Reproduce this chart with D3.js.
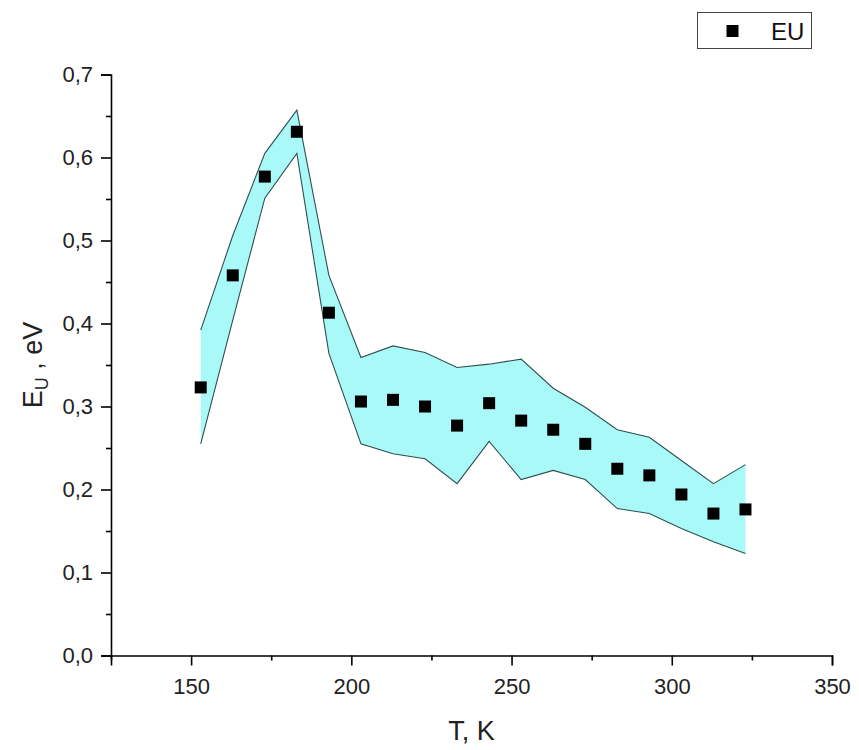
<!DOCTYPE html>
<html>
<head>
<meta charset="utf-8">
<script src="https://cdn.jsdelivr.net/npm/d3@7"></script>
<style>
  html, body { margin: 0; padding: 0; background: #fff; }
  svg { display: block; font-family: "Liberation Sans", Arial, sans-serif; }
</style>
</head>
<body>
<div id="chart"></div>
<script>
// ---- data ----
const temperatures = [153, 163, 173, 183, 193, 203, 213, 223, 233, 243, 253, 263, 273, 283, 293, 303, 313, 323];
const euValues     = [0.323, 0.458, 0.577, 0.631, 0.413, 0.306, 0.308, 0.300, 0.277, 0.304, 0.283, 0.272, 0.255, 0.225, 0.217, 0.194, 0.171, 0.176];
const upperBound   = [0.392, 0.506, 0.605, 0.657, 0.458, 0.359, 0.373, 0.365, 0.347, 0.351, 0.357, 0.322, 0.299, 0.272, 0.263, 0.235, 0.207, 0.230];
const lowerBound   = [0.255, 0.404, 0.551, 0.605, 0.364, 0.255, 0.243, 0.237, 0.207, 0.258, 0.212, 0.223, 0.212, 0.177, 0.171, 0.153, 0.137, 0.123];
const xTicks = [150, 200, 250, 300, 350];
const xMinorTicks = [125, 175, 225, 275, 325];
const yTicks = [0, 0.1, 0.2, 0.3, 0.4, 0.5, 0.6, 0.7];
const yMinorTicks = [0.05, 0.15, 0.25, 0.35, 0.45, 0.55, 0.65];
const seriesName = "EU";

const W = 859, H = 750;
const svg = d3.select("#chart").append("svg").attr("width", W).attr("height", H);

const x = d3.scaleLinear().domain([125, 350]).range([111, 832]);
const y = d3.scaleLinear().domain([0, 0.7]).range([655.5, 74.5]);

const rows = temperatures.map((t, i) => ({t, v: euValues[i], hi: upperBound[i], lo: lowerBound[i]}));

// band fill
svg.append("path")
  .datum(rows)
  .attr("d", d3.area().x(d => x(d.t)).y0(d => y(d.lo)).y1(d => y(d.hi)))
  .attr("fill", "#aaf9f9")
  .attr("stroke", "none");

// band edges
const edge = key => d3.line().x(d => x(d.t)).y(d => y(d[key]));
["hi", "lo"].forEach(k => {
  svg.append("path").datum(rows).attr("d", edge(k))
    .attr("fill", "none").attr("stroke", "#2f4f4f").attr("stroke-width", 1.1);
});

// points
const ms = 12;
svg.append("g").selectAll("rect").data(rows).join("rect")
  .attr("x", d => x(d.t) - ms / 2).attr("y", d => y(d.v) - ms / 2)
  .attr("width", ms).attr("height", ms).attr("fill", "#000");

// axes
const xAxis = svg.append("g").attr("transform", `translate(0,${y(0)})`)
  .call(d3.axisBottom(x).tickValues(xTicks).tickSize(10).tickPadding(8).tickFormat(d3.format("d")));
const xMinor = svg.append("g").attr("transform", `translate(0,${y(0)})`)
  .call(d3.axisBottom(x).tickValues(xMinorTicks).tickSize(5).tickFormat(""));
const yAxis = svg.append("g").attr("transform", `translate(${x(125)},0)`)
  .call(d3.axisLeft(y).tickValues(yTicks).tickSize(10).tickPadding(8).tickFormat(d => d3.format(".1f")(d).replace(".", ",")));
const yMinor = svg.append("g").attr("transform", `translate(${x(125)},0)`)
  .call(d3.axisLeft(y).tickValues(yMinorTicks).tickSize(5).tickFormat(""));

[xAxis, xMinor, yAxis, yMinor].forEach(g => {
  g.select(".domain").attr("stroke", "#000").attr("stroke-width", 1.6);
  g.selectAll(".tick line").attr("stroke", "#000").attr("stroke-width", 1.6);
  g.selectAll(".tick text").attr("fill", "#222").style("font-size", "22px")
    .style("font-family", "'Liberation Sans', Arial, sans-serif");
});
xAxis.selectAll(".tick text").attr("dy", "0.95em");
xMinor.select(".domain").remove();
yMinor.select(".domain").remove();

// axis titles
svg.append("text")
  .attr("x", (x(125) + x(350)) / 2).attr("y", 740)
  .attr("text-anchor", "middle").attr("fill", "#222")
  .style("font-size", "27px").text("T, K");

const yl = svg.append("text")
  .attr("transform", `translate(42,${(y(0) + y(0.7)) / 2}) rotate(-90)`)
  .attr("text-anchor", "middle").attr("fill", "#222")
  .style("font-size", "27px");
yl.append("tspan").text("E");
yl.append("tspan").attr("dy", 6).style("font-size", "18px").text("U");
yl.append("tspan").attr("dy", -6).text(" , eV");

// legend
const lg = svg.append("g");
lg.append("rect").attr("x", 697.5).attr("y", 12.5).attr("width", 114).attr("height", 36)
  .attr("fill", "#fff").attr("stroke", "#444").attr("stroke-width", 1);
lg.append("rect").attr("x", 732 - ms / 2 + 0.5).attr("y", 31 - ms / 2).attr("width", ms).attr("height", ms).attr("fill", "#000");
lg.append("text").attr("x", 771).attr("y", 39.5).attr("fill", "#111")
  .style("font-size", "24px").text(seriesName);
</script>
</body>
</html>
